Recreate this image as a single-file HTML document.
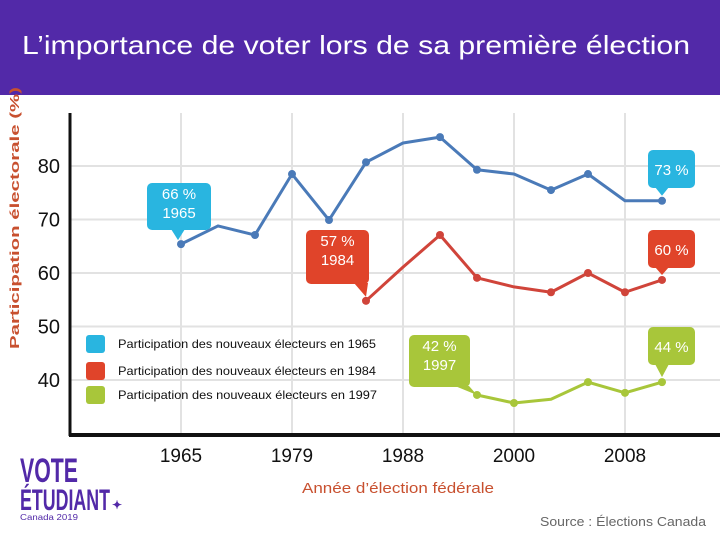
<!DOCTYPE html>
<html><head><meta charset="utf-8"><style>
html,body{margin:0;padding:0;background:#fff;}
svg{display:block;font-family:"Liberation Sans",sans-serif;}
</style></head><body>
<svg id="chart" width="720" height="540" viewBox="0 0 720 540">
<rect x="0" y="0" width="720" height="95" fill="#5229a8"/>
<text x="22" y="54" font-size="26" fill="#fff" textLength="668" lengthAdjust="spacingAndGlyphs">L’importance de voter lors de sa première élection</text>
<text transform="translate(19,218) rotate(-90)" text-anchor="middle" font-size="13" font-weight="bold" fill="#c8502f" textLength="262" lengthAdjust="spacingAndGlyphs">Participation électorale (%)</text>
<g id="grid"></g>
<g id="series"></g>
<line x1="70" y1="113" x2="70" y2="436" stroke="#111" stroke-width="3"/>
<line x1="69" y1="435" x2="720" y2="435" stroke="#111" stroke-width="4"/>
<g id="callouts"></g>
<g id="legend" font-size="12" fill="#111">
<rect x="86" y="335" width="19" height="18" rx="3" fill="#29b5e0"/>
<text x="118" y="348" textLength="258" lengthAdjust="spacingAndGlyphs">Participation des nouveaux électeurs en 1965</text>
<rect x="86" y="362" width="19" height="18" rx="3" fill="#e0442a"/>
<text x="118" y="375" textLength="258" lengthAdjust="spacingAndGlyphs">Participation des nouveaux électeurs en 1984</text>
<rect x="86" y="386" width="19" height="18" rx="3" fill="#a8c63a"/>
<text x="118" y="399" textLength="259" lengthAdjust="spacingAndGlyphs">Participation des nouveaux électeurs en 1997</text>
</g>
<text x="398" y="493" text-anchor="middle" font-size="15" fill="#c8502f" textLength="192" lengthAdjust="spacingAndGlyphs">Année d’élection fédérale</text>
<text x="706" y="526" text-anchor="end" font-size="13" fill="#666" textLength="166" lengthAdjust="spacingAndGlyphs">Source : Élections Canada</text>
<g fill="#5229a8" font-weight="bold">
<text x="20" y="482" font-size="34" textLength="58" lengthAdjust="spacingAndGlyphs">VOTE</text>
<text x="20" y="510" font-size="30" textLength="90" lengthAdjust="spacingAndGlyphs">ÉTUDIANT</text>
<text x="112" y="509" font-size="12">✦</text>
<text x="20" y="520" font-size="8" font-weight="normal" textLength="58" lengthAdjust="spacingAndGlyphs">Canada 2019</text>
</g>
</svg>
<script>
const categories = ["1965","1968","1972","1974","1979","1980","1984","1988","1993","1997","2000","2004","2006","2008"];
const yTicks = [40,50,60,70,80];
const xTickLabels = ["1965","1979","1988","2000","2008"];
const xTickIdx = [0,3,6,9,12];
const blueValues = [65.4,68.8,67.1,78.5,69.9,80.7,84.3,85.4,79.3,78.5,75.5,78.5,73.5,73.5];
const redValues = [null,null,null,null,null,54.8,61.1,67.1,59.1,57.4,56.4,60,56.4,58.7];
const greenValues = [null,null,null,null,null,null,null,null,37.2,35.7,36.4,39.6,37.6,39.6];
const blueDots = [1,0,1,1,1,1,0,1,1,0,1,1,0,1];
const redDots = [0,0,0,0,0,1,0,1,1,0,1,1,1,1];
const greenDots = [0,0,0,0,0,0,0,0,1,1,0,1,1,1];

const NS="http://www.w3.org/2000/svg";
function xS(i){return 181+i*37;}
function yS(v){return 166+(80-v)*5.35;}
function mk(tag,attrs,parent){const e=document.createElementNS(NS,tag);for(const k in attrs)e.setAttribute(k,attrs[k]);parent.appendChild(e);return e;}
const grid=document.getElementById('grid');
yTicks.forEach(t=>{
  const l=mk('line',{x1:70,x2:720,y1:yS(t),y2:yS(t),stroke:'#e2e2e2','stroke-width':2},grid);
  
  
  const tx=mk('text',{x:60,y:yS(t)+7,'text-anchor':'end','font-size':20,fill:'#111'},grid);
  tx.textContent=t;
  
  
});
xTickIdx.forEach((i,k)=>{
  const x=xS(i)-(i>=6?0:0);
  const l=mk('line',{x1:x,x2:x,y1:113,y2:435,stroke:'#e2e2e2','stroke-width':2},grid);
  
  
  const tx=mk('text',{x:x,y:462,'text-anchor':'middle','font-size':19,fill:'#111'},grid);
  tx.textContent=xTickLabels[k];
  
  
});
const ser=document.getElementById('series');
function drawSeries(vals,dots,color,name){
  const pts=[];vals.forEach((v,i)=>{if(v!=null)pts.push(xS(i)+','+yS(v));});
  const p=mk('polyline',{points:pts.join(' '),fill:'none',stroke:color,'stroke-width':3,'stroke-linejoin':'round'},ser);
  
  
  vals.forEach((v,i)=>{if(v!=null&&dots[i]){
    const c=mk('circle',{cx:xS(i),cy:yS(v),r:4,fill:color},ser);
    
    
  }});
}
drawSeries(blueValues,blueDots,'#4a7ab8','series-1965');
drawSeries(redValues,redDots,'#d0443a','series-1984');
drawSeries(greenValues,greenDots,'#a8c63a','series-1997');

const co=document.getElementById('callouts');
function callout(x,y,w,h,color,lines,tx,ty,name){
  const g=mk('g',{},co);
  
  
  mk('rect',{x:x,y:y,width:w,height:h,rx:5,fill:color},g);
  const bx=Math.min(Math.max(tx,x+8),x+w-8);
  mk('polygon',{points:(bx-7)+','+(y+h-1)+' '+(bx+7)+','+(y+h-1)+' '+tx+','+ty,fill:color},g);
  lines.forEach((s,k)=>{const t=mk('text',{x:x+w/2,y:y+(lines.length==1?h/2+6:16+k*19),'text-anchor':'middle','font-size':15,fill:'#fff'},g);t.textContent=s;});
}
callout(147,183,64,47,'#29b5e0',['66 %','1965'],xS(0)-3,yS(blueValues[0])-4,'callout-66-1965');
callout(648,150,47,38,'#29b5e0',['73 %'],xS(13),yS(blueValues[13])-5,'callout-73');
callout(306,230,63,54,'#e0442a',['57 %','1984'],xS(5),yS(redValues[5])-4,'callout-57-1984');
callout(648,230,47,38,'#e0442a',['60 %'],xS(13),yS(redValues[13])-5,'callout-60');
callout(409,335,61,52,'#a8c63a',['42 %','1997'],xS(8),yS(greenValues[8]),'callout-42-1997');
callout(648,327,47,38,'#a8c63a',['44 %'],xS(13),yS(greenValues[13])-5,'callout-44');
</script>
</body></html>
